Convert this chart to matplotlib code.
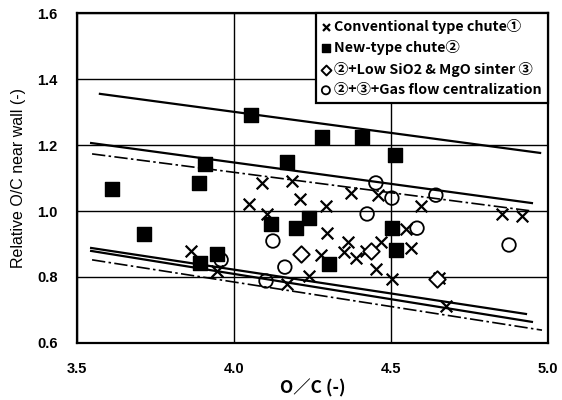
import numpy as np
import matplotlib.pyplot as plt

plt.rcParams['font.family'] = ['Liberation Sans', 'DejaVu Sans']

# Conventional type chute (1)
conv_x = [4.089, 4.185, 4.048, 4.210, 4.105, 3.863, 3.946, 4.169, 4.293, 4.373,
          4.459, 4.596, 4.296, 4.277, 4.363, 4.350, 4.389, 4.420, 4.468, 4.452,
          4.239, 4.503, 4.653, 4.675, 4.854, 4.917, 4.548, 4.564]
conv_y = [1.085, 1.091, 1.021, 1.036, 0.991, 0.879, 0.818, 0.779, 1.015, 1.055,
          1.048, 1.015, 0.933, 0.867, 0.906, 0.876, 0.858, 0.879, 0.906, 0.824,
          0.803, 0.794, 0.797, 0.712, 0.991, 0.985, 0.945, 0.888]

# New-type chute (2)
new_x = [3.610, 3.713, 3.908, 3.889, 3.892, 3.946, 4.054, 4.169, 4.118, 4.197,
         4.239, 4.280, 4.408, 4.513, 4.303, 4.503, 4.516]
new_y = [1.067, 0.930, 1.143, 1.085, 0.842, 0.870, 1.291, 1.148, 0.960, 0.949,
         0.979, 1.224, 1.224, 1.170, 0.839, 0.948, 0.882]

# (2)+Low SiO2 & MgO sinter (3)
low_x = [4.213, 4.436, 4.646]
low_y = [0.870, 0.879, 0.794]

# (2)+(3)+Gas flow centralization
gas_x = [3.959, 4.124, 4.162, 4.102, 4.452, 4.503, 4.643, 4.424, 4.583, 4.876]
gas_y = [0.852, 0.909, 0.830, 0.788, 1.085, 1.039, 1.048, 0.991, 0.948, 0.897]

# boundary lines (start / end points)
solid_lines = [([3.573, 4.975], [1.355, 1.176]),
               ([3.545, 4.949], [1.206, 1.024]),
               ([3.545, 4.930], [0.888, 0.688]),
               ([3.545, 4.949], [0.879, 0.664])]
dashdot_lines = [([3.548, 4.949], [1.173, 1.000]),
                 ([3.548, 4.981], [0.852, 0.639])]

fig = plt.figure(figsize=(5.62, 4.0), dpi=100)
ax = fig.add_axes([0.137, 0.1425, 0.838, 0.825])

for xs, ys in solid_lines:
    ax.plot(xs, ys, color='black', lw=1.6, zorder=2)
for xs, ys in dashdot_lines:
    ax.plot(xs, ys, color='black', lw=1.2, ls=(0, (8, 2, 1.5, 2)), zorder=2)

ax.scatter(conv_x, conv_y, marker='x', s=70, color='black', linewidths=1.6,
           label='Conventional type chute\u2460', zorder=3)
ax.scatter(new_x, new_y, marker='s', s=95, color='black',
           label='New-type chute\u2461', zorder=3)
ax.scatter(low_x, low_y, marker='D', s=70, facecolors='white', edgecolors='black',
           linewidths=1.4, label='\u2461+Low SiO2 & MgO sinter \u2462', zorder=4)
ax.scatter(gas_x, gas_y, marker='o', s=95, facecolors='none', edgecolors='black',
           linewidths=1.3, label='\u2461+\u2462+Gas flow centralization', zorder=4)

ax.set_xlim(3.5, 5.0)
ax.set_ylim(0.6, 1.6)
ax.set_xticks([3.5, 4.0, 4.5, 5.0])
ax.set_xticklabels(['3.5', '4.0', '4.5', '5.0'])
ax.set_yticks([0.6, 0.8, 1.0, 1.2, 1.4, 1.6])
ax.set_yticklabels(['0.6', '0.8', '1.0', '1.2', '1.4', '1.6'])
ax.grid(True, color='black', lw=1.0)
ax.set_axisbelow(True)
ax.tick_params(length=0, labelsize=10.5, pad=14)
for lab in ax.get_xticklabels() + ax.get_yticklabels():
    lab.set_fontweight('bold')
for sp in ax.spines.values():
    sp.set_linewidth(1.6)

ax.set_xlabel('O\uff0fC (-)', fontsize=12.5, fontweight='bold',
              family=['Noto Sans CJK JP', 'DejaVu Sans'], labelpad=2)
ax.set_ylabel('Relative O/C near wall (-)', fontsize=11.5, labelpad=8)

leg = ax.legend(loc='upper right', borderaxespad=0, fancybox=False,
                handlelength=0.6, handletextpad=0.3, labelspacing=0.45,
                borderpad=0.4, framealpha=1, markerscale=0.6,
                prop={'family': ['Noto Sans CJK JP', 'DejaVu Sans'],
                      'weight': 'bold', 'size': 10.3})
leg.get_frame().set_edgecolor('black')
leg.get_frame().set_linewidth(1.6)

fig.savefig('out.png', dpi=100)
